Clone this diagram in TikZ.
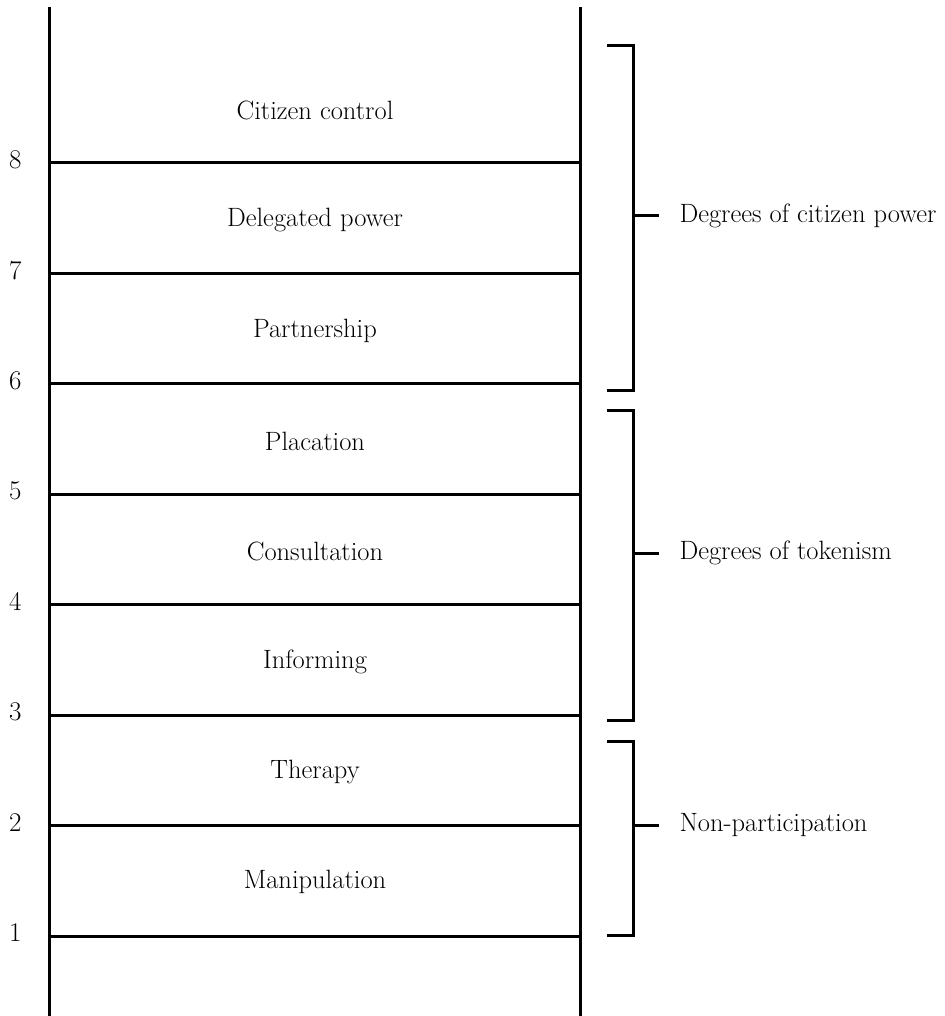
\documentclass[tikz,border=0pt]{standalone}
\begin{document}
\begin{tikzpicture}[x=1pt,y=-1pt,
  rail/.style={line width=3pt},
  rung/.style={line width=3pt},
  brace/.style={line width=3pt},
  steplabel/.style={font=\fontsize{26.5}{30}\selectfont, anchor=center},
  numlabel/.style={font=\fontsize{27}{30}\selectfont, anchor=east},
  grouplabel/.style={font=\fontsize{26.5}{30}\selectfont, anchor=west}]
  \useasboundingbox (0,0) rectangle (944,1016);

  % ladder rails
  \coordinate (lt) at (49,7.5);
  \coordinate (lb) at (49,1016);
  \coordinate (rt) at (580,7.5);
  \coordinate (rb) at (580,1016);
  \draw[rail] (lt) -- (lb);
  \draw[rail] (rt) -- (rb);

  % rungs with their numbers
  \foreach \n in {1,...,8} {
    \pgfmathsetmacro{\yy}{936-(\n-1)*110.43}
    \coordinate (L\n) at (49,\yy);
    \coordinate (R\n) at (580,\yy);
    \draw[rung] (L\n) -- (R\n);
    \node[numlabel] (num\n) at (25,\yy-3) {\n};
  }

  % rung names
  \node[steplabel] (s8) at (315,110) {Citizen control};
  \node[steplabel] (s7) at (315,220) {Delegated power};
  \node[steplabel] (s6) at (315,331) {Partnership};
  \node[steplabel] (s5) at (315,441) {Placation};
  \node[steplabel] (s4) at (315,551) {Consultation};
  \node[steplabel] (s3) at (315,662) {Informing};
  \node[steplabel] (s2) at (315,772) {Therapy};
  \node[steplabel] (s1) at (315,882) {Manipulation};

  % group brackets
  \coordinate (a1) at (607,46);  \coordinate (b1) at (633,46);
  \coordinate (c1) at (633,390); \coordinate (d1) at (607,390);
  \coordinate (m1) at (633,216); \coordinate (e1) at (659,216);
  \draw[brace] (a1) -- (b1) -- (c1) -- (d1);
  \draw[brace] (m1) -- (e1);
  \node[grouplabel] (g1) at (676,216) {Degrees of citizen power};

  \coordinate (a2) at (607,410); \coordinate (b2) at (633,410);
  \coordinate (c2) at (633,720); \coordinate (d2) at (607,720);
  \coordinate (m2) at (633,553); \coordinate (e2) at (659,553);
  \draw[brace] (a2) -- (b2) -- (c2) -- (d2);
  \draw[brace] (m2) -- (e2);
  \node[grouplabel] (g2) at (676,553) {Degrees of tokenism};

  \coordinate (a3) at (607,741); \coordinate (b3) at (633,741);
  \coordinate (c3) at (633,935); \coordinate (d3) at (607,935);
  \coordinate (m3) at (633,825); \coordinate (e3) at (659,825);
  \draw[brace] (a3) -- (b3) -- (c3) -- (d3);
  \draw[brace] (m3) -- (e3);
  \node[grouplabel] (g3) at (676,825) {Non-participation};
\end{tikzpicture}
\end{document}
